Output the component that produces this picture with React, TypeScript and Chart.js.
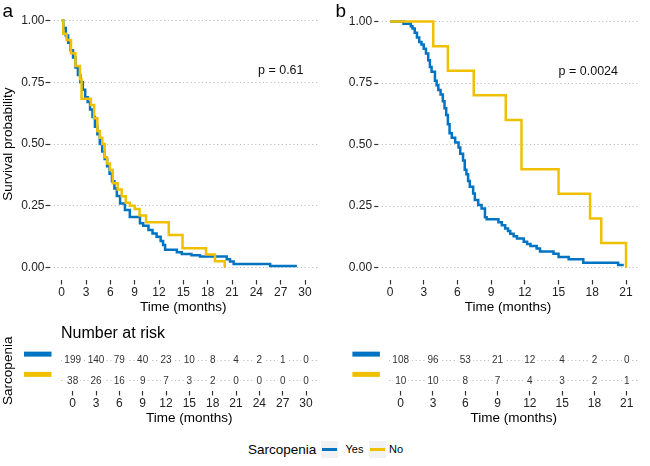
import React, { useEffect, useRef } from 'react';
import { Chart, registerables } from 'chart.js';

Chart.register(...registerables);

const BLUE = '#0073C2';
const YELLOW = '#EFC000';
const FONT = '"Liberation Sans", Arial, Helvetica, sans-serif';

// ---------- Data ----------
const groups = ['Yes', 'No'];

// Panel a – Kaplan–Meier step points (time in months, survival probability)
const timeA_yes = [0, 0.2, 0.5, 0.8, 1.1, 1.4, 1.7, 2.0, 2.3, 2.6, 2.9, 3.2, 3.5, 3.8, 4.1, 4.4, 4.7, 5.0, 5.3, 5.6, 5.9, 6.2, 6.5, 6.8, 7.2, 7.8, 8.4, 9.65, 10.05, 10.7, 11.2, 11.7, 12.2, 12.5, 12.75, 14.2, 14.8, 16.0, 17.05, 20.35, 20.75, 21.2, 25.7, 29.0];
const survA_yes = [1.0, 0.97, 0.94, 0.91, 0.88, 0.85, 0.81, 0.78, 0.75, 0.72, 0.69, 0.67, 0.64, 0.61, 0.57, 0.54, 0.50, 0.47, 0.44, 0.41, 0.38, 0.35, 0.32, 0.29, 0.26, 0.233, 0.205, 0.18, 0.17, 0.152, 0.138, 0.125, 0.108, 0.092, 0.072, 0.062, 0.055, 0.05, 0.045, 0.034, 0.025, 0.015, 0.007, 0.007];
const timeA_no = [0, 0.2, 0.6, 1.15, 1.7, 2.25, 2.45, 3.6, 4.0, 4.4, 4.7, 5.0, 5.3, 5.6, 5.95, 6.3, 6.9, 7.4, 7.9, 8.4, 9.0, 9.6, 10.4, 13.2, 14.9, 17.8, 18.9, 20.1];
const survA_no = [1.0, 0.947, 0.921, 0.868, 0.816, 0.763, 0.684, 0.658, 0.605, 0.553, 0.526, 0.5, 0.447, 0.421, 0.395, 0.342, 0.316, 0.289, 0.263, 0.25, 0.237, 0.211, 0.184, 0.132, 0.079, 0.053, 0.026, 0];

// Panel b
const timeB_yes = [0, 1.2, 1.85, 2.0, 2.2, 2.4, 2.6, 2.8, 3.0, 3.2, 3.4, 3.55, 3.7, 4.0, 4.15, 4.3, 4.5, 4.7, 4.85, 5.0, 5.15, 5.3, 5.5, 5.8, 6.1, 6.25, 6.5, 6.65, 6.8, 6.95, 7.1, 7.4, 7.55, 7.85, 8.15, 8.45, 8.6, 9.65, 9.95, 10.25, 10.5, 10.7, 11.0, 11.3, 11.9, 12.2, 12.5, 13.05, 13.35, 14.55, 15.0, 15.9, 17.2, 20.3, 20.8];
const survB_yes = [1.0, 0.991, 0.981, 0.972, 0.954, 0.935, 0.917, 0.907, 0.889, 0.87, 0.843, 0.815, 0.796, 0.759, 0.741, 0.722, 0.704, 0.676, 0.648, 0.62, 0.583, 0.546, 0.528, 0.509, 0.488, 0.463, 0.435, 0.398, 0.38, 0.352, 0.329, 0.301, 0.275, 0.255, 0.24, 0.205, 0.197, 0.185, 0.172, 0.159, 0.149, 0.138, 0.128, 0.119, 0.105, 0.096, 0.088, 0.078, 0.066, 0.057, 0.043, 0.034, 0.02, 0.011, 0.011];
const timeB_no = [0, 3.85, 5.15, 7.45, 10.3, 11.7, 15.0, 17.8, 18.8, 21.0];
const survB_no = [1.0, 0.9, 0.8, 0.7, 0.6, 0.4, 0.3, 0.2, 0.1, 0];

// Number at risk tables (also the x-axis tick values)
const riskTimesA = [0, 3, 6, 9, 12, 15, 18, 21, 24, 27, 30];
const riskA_yes = [199, 140, 79, 40, 23, 10, 8, 4, 2, 1, 0];
const riskA_no = [38, 26, 16, 9, 7, 3, 2, 0, 0, 0, 0];
const riskTimesB = [0, 3, 6, 9, 12, 15, 18, 21];
const riskB_yes = [108, 96, 53, 21, 12, 4, 2, 0];
const riskB_no = [10, 10, 8, 7, 4, 3, 2, 1];

const yTicks = [0, 0.25, 0.5, 0.75, 1.0];

const pValueA = 'p = 0.61';
const pValueB = 'p = 0.0024';

// ---------- Plugins ----------
const kmTextPlugin = {
  id: 'kmText',
  afterDraw(chart: any, _args: any, opts: any) {
    const { ctx, scales } = chart;
    ctx.save();
    ctx.fillStyle = '#000';
    ctx.textAlign = 'left';
    ctx.textBaseline = 'alphabetic';
    ctx.font = `19px ${FONT}`;
    ctx.fillText(opts.panel, opts.panelX, opts.panelY);
    ctx.font = `12.5px ${FONT}`;
    ctx.textBaseline = 'middle';
    ctx.fillStyle = '#111';
    ctx.fillText(opts.pText, scales.x.getPixelForValue(opts.pX), scales.y.getPixelForValue(opts.pY));
    ctx.restore();
  },
};

const riskPlugin = {
  id: 'riskText',
  afterDatasetsDraw(chart: any, _args: any, opts: any) {
    const { ctx, chartArea, scales } = chart;
    ctx.save();
    chart.data.datasets.forEach((ds: any, di: number) => {
      const meta = chart.getDatasetMeta(di);
      const yRow = scales.y.getPixelForValue(ds.data[0].y);
      ctx.strokeStyle = ds.borderColor;
      ctx.lineWidth = 5;
      ctx.lineCap = 'butt';
      ctx.beginPath();
      ctx.moveTo(chartArea.left - 37, yRow - 6.5);
      ctx.lineTo(chartArea.left - 9.5, yRow - 6.5);
      ctx.stroke();
      ctx.font = `10px ${FONT}`;
      ctx.textAlign = 'center';
      ctx.textBaseline = 'middle';
      meta.data.forEach((pt: any, i: number) => {
        const label = String(ds.data[i].n);
        const w = ctx.measureText(label).width;
        ctx.fillStyle = '#fff';
        ctx.fillRect(pt.x - w / 2 - 2, pt.y - 4, w + 4, 8);
        ctx.fillStyle = '#333';
        ctx.fillText(label, pt.x, pt.y);
      });
    });
    if (opts.title) {
      ctx.font = `16px ${FONT}`;
      ctx.fillStyle = '#000';
      ctx.textAlign = 'left';
      ctx.textBaseline = 'middle';
      ctx.fillText(opts.title, chartArea.left, opts.titleY);
    }
    ctx.restore();
  },
};

// ---------- Config builders ----------
const toPts = (t: number[], s: number[]) => t.map((x, i) => ({ x, y: s[i] }));
const setTicks = (vals: number[]) => (scale: any) => { scale.ticks = vals.map((value) => ({ value })); };

function kmConfig(o: any): any {
  return {
    type: 'line',
    data: {
      datasets: [
        { label: groups[1], data: toPts(o.tNo, o.sNo), borderColor: YELLOW, borderWidth: 2.5, stepped: 'before', pointRadius: 0, fill: false, order: 0 },
        { label: groups[0], data: toPts(o.tYes, o.sYes), borderColor: BLUE, borderWidth: 2.5, stepped: 'before', pointRadius: 0, fill: false, order: 1 },
      ],
    },
    options: {
      animation: false,
      responsive: false,
      maintainAspectRatio: false,
      layout: { padding: { top: 8.1, right: o.padRight, left: 0, bottom: 0 } },
      plugins: {
        legend: { display: false },
        tooltip: { enabled: false },
        kmText: { panel: o.panel, panelX: o.panelX, panelY: 16.7, pText: o.pText, pX: o.pX, pY: 0.797 },
      },
      scales: {
        x: {
          type: 'linear',
          min: -o.xMax * 0.05,
          max: o.xMax * 1.05,
          afterBuildTicks: setTicks(o.xTicks),
          afterFit: (s: any) => { s.height = 45; },
          ticks: { autoSkip: false, maxRotation: 0, minRotation: 0, padding: 0.5, color: '#222', font: { size: 12, family: FONT } },
          grid: { drawOnChartArea: false, drawTicks: true, tickLength: 4.5, tickColor: '#333', tickWidth: 1.2 },
          border: { display: false },
          title: { display: true, text: 'Time (months)', color: '#000', font: { size: 13.5, family: FONT }, padding: { top: 0, bottom: 9.9 } },
        },
        y: {
          type: 'linear',
          min: -0.05,
          max: 1.05,
          afterBuildTicks: setTicks(yTicks),
          afterFit: (s: any) => { s.width = o.yWidth; },
          ticks: { autoSkip: false, padding: o.yPad, color: '#222', font: { size: 12, family: FONT }, callback: (v: any) => Number(v).toFixed(2) },
          grid: { color: '#bdbdbd', lineWidth: 1, tickColor: '#333', tickLength: 4, tickWidth: 1.2, tickBorderDash: [] },
          border: { display: false, dash: [1.2, 2.6] },
          title: { display: o.showYTitle, text: 'Survival probability', color: '#000', font: { size: 13.5, family: FONT }, padding: { top: 0, bottom: 0 } },
        },
      },
    },
    plugins: [kmTextPlugin],
  };
}

function riskConfig(o: any): any {
  const rowData = (vals: number[], row: number) => o.times.map((t: number, i: number) => ({ x: t, y: row, n: vals[i] }));
  return {
    type: 'scatter',
    data: {
      datasets: [
        { label: groups[0], data: rowData(o.yes, 1), borderColor: BLUE, backgroundColor: BLUE, pointRadius: 0 },
        { label: groups[1], data: rowData(o.no, 2), borderColor: YELLOW, backgroundColor: YELLOW, pointRadius: 0 },
      ],
    },
    options: {
      animation: false,
      responsive: false,
      maintainAspectRatio: false,
      layout: { padding: { top: 30.5, right: o.padRight, left: 0, bottom: 0 } },
      plugins: {
        legend: { display: false },
        tooltip: { enabled: false },
        riskText: { title: o.title, titleY: 14 },
      },
      scales: {
        x: {
          type: 'linear',
          min: -o.xMax * 0.05,
          max: o.xMax * 1.05,
          afterBuildTicks: setTicks(o.times),
          afterFit: (s: any) => { s.height = 39; },
          ticks: { autoSkip: false, maxRotation: 0, minRotation: 0, padding: 0.5, color: '#222', font: { size: 12, family: FONT } },
          grid: { drawOnChartArea: false, drawTicks: true, tickLength: 4.5, tickColor: '#333', tickWidth: 1.2 },
          border: { display: false },
          title: { display: true, text: 'Time (months)', color: '#000', font: { size: 13.5, family: FONT }, padding: { top: 0, bottom: 3.6 } },
        },
        y: {
          type: 'linear',
          min: 0.5,
          max: 2.5,
          reverse: true,
          afterBuildTicks: setTicks([1, 2]),
          afterFit: (s: any) => { s.width = o.yWidth; },
          ticks: { display: false },
          grid: { color: '#bdbdbd', lineWidth: 1, drawTicks: false },
          border: { display: false, dash: [1.2, 2.6] },
          title: { display: o.showYTitle, text: 'Sarcopenia', color: '#000', font: { size: 13.5, family: FONT }, padding: { top: 0, bottom: 0 } },
        },
      },
    },
    plugins: [riskPlugin],
  };
}

// ---------- Components ----------
function ChartBox({ make, left, top, w, h }: any) {
  const ref = useRef<HTMLCanvasElement>(null);
  useEffect(() => {
    const chart = new Chart(ref.current as HTMLCanvasElement, make());
    return () => chart.destroy();
  }, []);
  return (
    <canvas
      ref={ref}
      width={w}
      height={h}
      style={{ position: 'absolute', left, top, width: w, height: h, display: 'block' }}
    />
  );
}

function LegendKey({ left, color }: any) {
  return (
    <div style={{ position: 'absolute', left, top: 441, width: 17, height: 17, background: '#f2f2f2' }}>
      <div style={{ position: 'absolute', left: 1, top: 7, width: 15, height: 3, background: color }} />
    </div>
  );
}

export default function App() {
  return (
    <div style={{ position: 'fixed', left: 0, top: 0, width: 650, height: 466, background: '#fff', overflow: 'hidden', fontFamily: FONT }}>
      <ChartBox
        left={0} top={0} w={325} h={325}
        make={() => kmConfig({ tYes: timeA_yes, sYes: survA_yes, tNo: timeA_no, sNo: survA_no, xMax: 30, xTicks: riskTimesA, yWidth: 49.5, yPad: 1, padRight: 7.8, showYTitle: true, panel: 'a', panelX: 2.5, pText: pValueA, pX: 24.2 })}
      />
      <ChartBox
        left={325} top={0} w={325} h={325}
        make={() => kmConfig({ tYes: timeB_yes, sYes: survB_yes, tNo: timeB_no, sNo: survB_no, xMax: 21, xTicks: riskTimesB, yWidth: 53.2, yPad: 2, padRight: 12.2, showYTitle: false, panel: 'b', panelX: 10.5, pText: pValueB, pX: 15.0 })}
      />
      <ChartBox
        left={0} top={320} w={325} h={110}
        make={() => riskConfig({ times: riskTimesA, yes: riskA_yes, no: riskA_no, xMax: 30, yWidth: 61, padRight: 7.3, showYTitle: true, title: 'Number at risk' })}
      />
      <ChartBox
        left={325} top={320} w={325} h={110}
        make={() => riskConfig({ times: riskTimesB, yes: riskB_yes, no: riskB_no, xMax: 21, yWidth: 64.4, padRight: 12, showYTitle: false, title: '' })}
      />
      <div style={{ position: 'absolute', left: 248, top: 441, lineHeight: '17px', fontSize: 13.5, color: '#000' }}>Sarcopenia</div>
      <LegendKey left={321} color={BLUE} />
      <div style={{ position: 'absolute', left: 345.5, top: 441, lineHeight: '17px', fontSize: 11, color: '#000' }}>Yes</div>
      <LegendKey left={368.5} color={YELLOW} />
      <div style={{ position: 'absolute', left: 389, top: 441, lineHeight: '17px', fontSize: 11, color: '#000' }}>No</div>
    </div>
  );
}
